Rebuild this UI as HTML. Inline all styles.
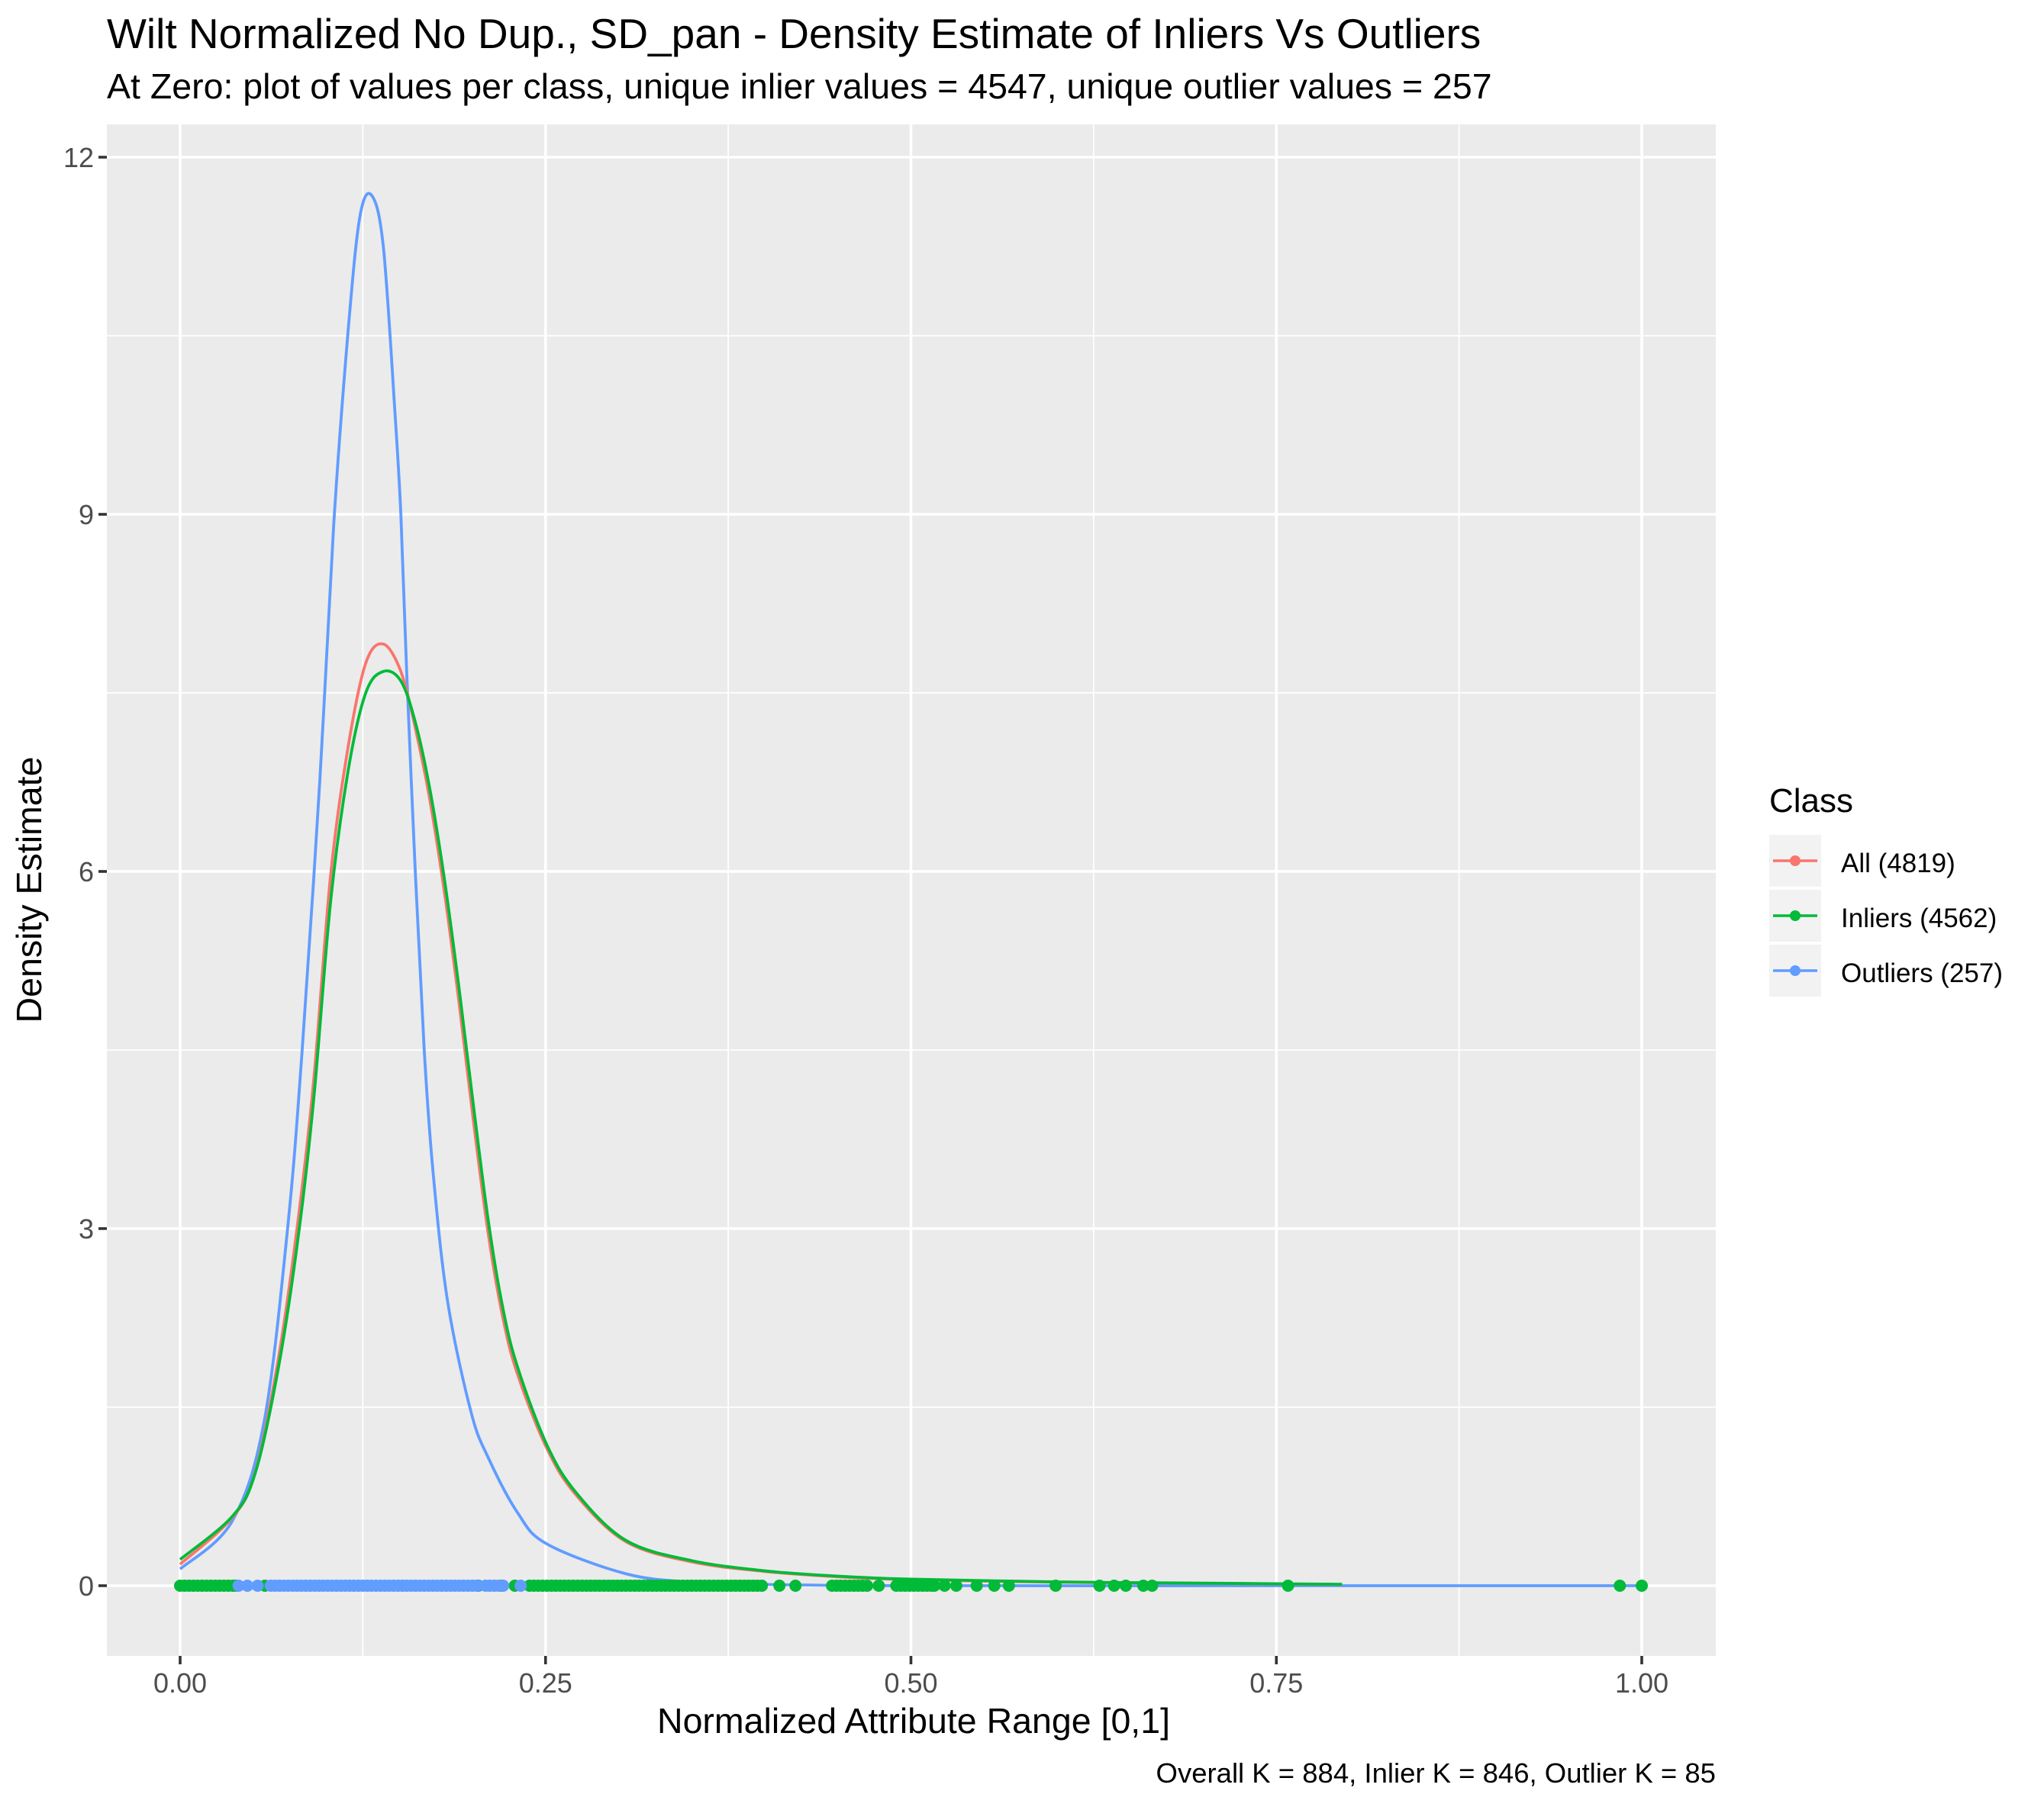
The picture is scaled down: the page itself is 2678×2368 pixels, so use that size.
<!DOCTYPE html>
<html><head><meta charset="utf-8"><style>
html,body{margin:0;padding:0;background:#fff;}
svg{display:block;font-family:"Liberation Sans",Arial,sans-serif;}
</style></head><body>
<svg id="chart" width="2678" height="2368" viewBox="0 0 2678 2368" xmlns="http://www.w3.org/2000/svg">
<rect width="2678" height="2368" fill="#ffffff"/>
<text x="140" y="63" font-size="55" fill="#000">Wilt Normalized No Dup., SD_pan - Density Estimate of Inliers Vs Outliers</text>
<text x="140" y="129" font-size="46.5" fill="#000">At Zero: plot of values per class, unique inlier values = 4547, unique outlier values = 257</text>
<rect x="140" y="163" width="2108" height="2007" fill="#EBEBEB"/>
<g id="grid"></g>
<g id="axes"></g>
<g id="lines"></g>
<g id="rug"></g>
<text x="1197" y="2271" font-size="46.5" text-anchor="middle" fill="#000">Normalized Attribute Range [0,1]</text>
<text transform="translate(54,1166) rotate(-90)" font-size="46.5" text-anchor="middle" fill="#000">Density Estimate</text>
<text x="2248" y="2336" font-size="36.5" text-anchor="end" fill="#000">Overall K = 884, Inlier K = 846, Outlier K = 85</text>
<g>
<text x="2318" y="1064" font-size="44" fill="#000">Class</text>
<g>
<rect x="2318" y="1094" width="68" height="68" fill="#F2F2F2"/>
<line x1="2323" y1="1128" x2="2381" y2="1128" stroke="#F8766D" stroke-width="3.5"/>
<circle cx="2352" cy="1128" r="7" fill="#F8766D"/>
<text x="2412" y="1143" font-size="35" fill="#000">All (4819)</text></g>
<g>
<rect x="2318" y="1166" width="68" height="68" fill="#F2F2F2"/>
<line x1="2323" y1="1200" x2="2381" y2="1200" stroke="#00BA38" stroke-width="3.5"/>
<circle cx="2352" cy="1200" r="7" fill="#00BA38"/>
<text x="2412" y="1215" font-size="35" fill="#000">Inliers (4562)</text></g>
<g>
<rect x="2318" y="1238" width="68" height="68" fill="#F2F2F2"/>
<line x1="2323" y1="1272" x2="2381" y2="1272" stroke="#619CFF" stroke-width="3.5"/>
<circle cx="2352" cy="1272" r="7" fill="#619CFF"/>
<text x="2412" y="1287" font-size="35" fill="#000">Outliers (257)</text></g>
</g>
</svg>
<script>
const xTicks = [0, 0.25, 0.5, 0.75, 1.0];
const xTickLabels = ["0.00", "0.25", "0.50", "0.75", "1.00"];
const yTicks = [0, 3, 6, 9, 12];
const yTickLabels = ["0", "3", "6", "9", "12"];
const xMinor = [0.125, 0.375, 0.625, 0.875];
const yMinor = [1.5, 4.5, 7.5, 10.5];

const allX = [0, 0.0355, 0.0515, 0.0675, 0.081, 0.0915, 0.103, 0.115, 0.127, 0.139, 0.151, 0.161, 0.171, 0.181, 0.191, 0.201, 0.211, 0.221, 0.231, 0.251, 0.271, 0.305, 0.35, 0.4, 0.45, 0.5, 0.6, 0.7, 0.795];
const allY = [0.18, 0.57, 0.96, 1.93, 3.1, 4.26, 5.97, 7.05, 7.75, 7.91, 7.68, 7.2, 6.59, 5.81, 4.88, 3.87, 2.94, 2.24, 1.77, 1.15, 0.76, 0.37, 0.2, 0.12, 0.075, 0.05, 0.03, 0.02, 0.01];
const inX = [0, 0.0355, 0.0515, 0.0675, 0.081, 0.0915, 0.103, 0.115, 0.127, 0.139, 0.151, 0.161, 0.171, 0.181, 0.191, 0.201, 0.211, 0.221, 0.231, 0.251, 0.271, 0.305, 0.35, 0.4, 0.45, 0.5, 0.6, 0.7, 0.795];
const inY = [0.22, 0.58, 0.95, 1.85, 2.95, 4.1, 5.75, 6.85, 7.5, 7.68, 7.6, 7.25, 6.68, 5.92, 5.0, 4.0, 3.05, 2.32, 1.83, 1.18, 0.78, 0.38, 0.21, 0.125, 0.08, 0.055, 0.032, 0.021, 0.012];
const outX = [0, 0.0355, 0.0575, 0.0735, 0.0835, 0.0955, 0.105, 0.115, 0.123, 0.131, 0.139, 0.147, 0.151, 0.155, 0.161, 0.167, 0.173, 0.183, 0.199, 0.211, 0.231, 0.251, 0.305, 0.35, 0.4, 0.5, 0.75, 1.0];
const outY = [0.14, 0.54, 1.38, 3.0, 4.5, 6.75, 8.9, 10.55, 11.5, 11.68, 11.25, 9.85, 9.0, 7.68, 5.97, 4.5, 3.48, 2.39, 1.46, 1.07, 0.61, 0.35, 0.1, 0.03, 0.01, 0.0, 0.0, 0.0];

const inlierRug = [0, 0.003, 0.006, 0.009, 0.012, 0.015, 0.018, 0.021, 0.024, 0.027, 0.03, 0.033, 0.036, 0.038, 0.058, 0.204, 0.22, 0.229,
 0.239, 0.242, 0.245, 0.248, 0.251, 0.254, 0.257, 0.26, 0.263, 0.266, 0.269, 0.272, 0.275, 0.278, 0.281, 0.284, 0.287, 0.29, 0.293, 0.296, 0.299, 0.302, 0.305, 0.308, 0.311, 0.314, 0.317, 0.32, 0.323, 0.326, 0.329, 0.332, 0.335, 0.338, 0.341, 0.344, 0.347, 0.35, 0.353, 0.356, 0.359, 0.362, 0.365, 0.368, 0.371, 0.374, 0.377, 0.38, 0.383, 0.386, 0.389, 0.392, 0.395, 0.398,
 0.41, 0.421, 0.446, 0.449, 0.452, 0.455, 0.458, 0.461, 0.464, 0.467, 0.47, 0.478, 0.49, 0.493, 0.496, 0.499, 0.502, 0.505, 0.508, 0.511, 0.514, 0.516, 0.523, 0.531, 0.545, 0.557, 0.567, 0.599, 0.629, 0.639, 0.647, 0.659, 0.665, 0.758, 0.985, 1.0];
const outlierRug = [0.04, 0.046, 0.053, 0.062, 0.065, 0.068, 0.071, 0.074, 0.077, 0.08, 0.083, 0.086, 0.089, 0.092, 0.095, 0.098, 0.101, 0.104, 0.107, 0.11, 0.113, 0.116, 0.119, 0.122, 0.125, 0.128, 0.131, 0.134, 0.137, 0.14, 0.143, 0.146, 0.149, 0.152, 0.155, 0.158, 0.161, 0.164, 0.167, 0.17, 0.173, 0.176, 0.179, 0.182, 0.185, 0.188, 0.191, 0.194, 0.197, 0.2, 0.203, 0.209, 0.212, 0.215, 0.218, 0.221, 0.233];

const NS = "http://www.w3.org/2000/svg";
const X0 = 236, XU = 1915, Y0 = 2078, YU = 156;
function sx(v){ return X0 + v * XU; }
function sy(v){ return Y0 - v * YU; }
function mk(tag, attrs, parent){
  const el = document.createElementNS(NS, tag);
  for (const k in attrs) el.setAttribute(k, attrs[k]);
  parent.appendChild(el);
  return el;
}
const grid = document.getElementById('grid');
const axes = document.getElementById('axes');
xMinor.forEach(v => {
  const l = mk('line', {x1: sx(v), x2: sx(v), y1: 163, y2: 2170, stroke: '#fff', 'stroke-width': 1.8}, grid);
  
  
});
yMinor.forEach(v => {
  const l = mk('line', {x1: 140, x2: 2248, y1: sy(v), y2: sy(v), stroke: '#fff', 'stroke-width': 1.8}, grid);
  
  
});
xTicks.forEach((v, i) => {
  const l = mk('line', {x1: sx(v), x2: sx(v), y1: 163, y2: 2170, stroke: '#fff', 'stroke-width': 3.6}, grid);
  
  
  const t = mk('line', {x1: sx(v), x2: sx(v), y1: 2170, y2: 2181, stroke: '#333', 'stroke-width': 3.6}, axes);
  
  
  const tx = mk('text', {x: sx(v), y: 2218, 'font-size': 36, 'text-anchor': 'middle', fill: '#4D4D4D'}, axes);
  tx.textContent = xTickLabels[i];
  
  
});
yTicks.forEach((v, i) => {
  const l = mk('line', {x1: 140, x2: 2248, y1: sy(v), y2: sy(v), stroke: '#fff', 'stroke-width': 3.6}, grid);
  
  
  const t = mk('line', {x1: 129, x2: 140, y1: sy(v), y2: sy(v), stroke: '#333', 'stroke-width': 3.6}, axes);
  
  
  const tx = mk('text', {x: 123, y: sy(v) + 13, 'font-size': 36, 'text-anchor': 'end', fill: '#4D4D4D'}, axes);
  tx.textContent = yTickLabels[i];
  
  
});
const lines = document.getElementById('lines');
function drawLine(xs, ys, color, name){
  const P = xs.map((x, i) => [sx(x), sy(ys[i])]);
  let d = 'M' + P[0][0].toFixed(1) + ',' + P[0][1].toFixed(1);
  for (let i = 0; i < P.length - 1; i++) {
    const p0 = P[i - 1] || P[i], p1 = P[i], p2 = P[i + 1], p3 = P[i + 2] || P[i + 1];
    let c1y = p1[1] + (p2[1] - p0[1]) / 6, c2y = p2[1] - (p3[1] - p1[1]) / 6;
    const lo = Math.min(p1[1], p2[1]) - 12, hi = Math.max(p1[1], p2[1]) + 12;
    c1y = Math.max(lo, Math.min(hi, c1y)); c2y = Math.max(lo, Math.min(hi, c2y));
    const c1x = p1[0] + (p2[0] - p0[0]) / 6, c2x = p2[0] - (p3[0] - p1[0]) / 6;
    d += 'C' + c1x.toFixed(1) + ',' + c1y.toFixed(1) + ' ' + c2x.toFixed(1) + ',' + c2y.toFixed(1) + ' ' + p2[0].toFixed(1) + ',' + p2[1].toFixed(1);
  }
  const p = mk('path', {d: d, fill: 'none', stroke: color, 'stroke-width': 3.8, 'stroke-linejoin': 'round'}, lines);
  
  
}
drawLine(outX, outY, '#619CFF', 'outliers-density-line');
drawLine(allX, allY, '#F8766D', 'all-density-line');
drawLine(inX, inY, '#00BA38', 'inliers-density-line');
const rug = document.getElementById('rug');
inlierRug.forEach(v => {
  const c = mk('circle', {cx: sx(v), cy: Y0, r: 8, fill: '#00BA38'}, rug);
  
  
});
outlierRug.forEach(v => {
  const c = mk('circle', {cx: sx(v), cy: Y0, r: 8, fill: '#619CFF'}, rug);
  
  
});
</script>
</body></html>
